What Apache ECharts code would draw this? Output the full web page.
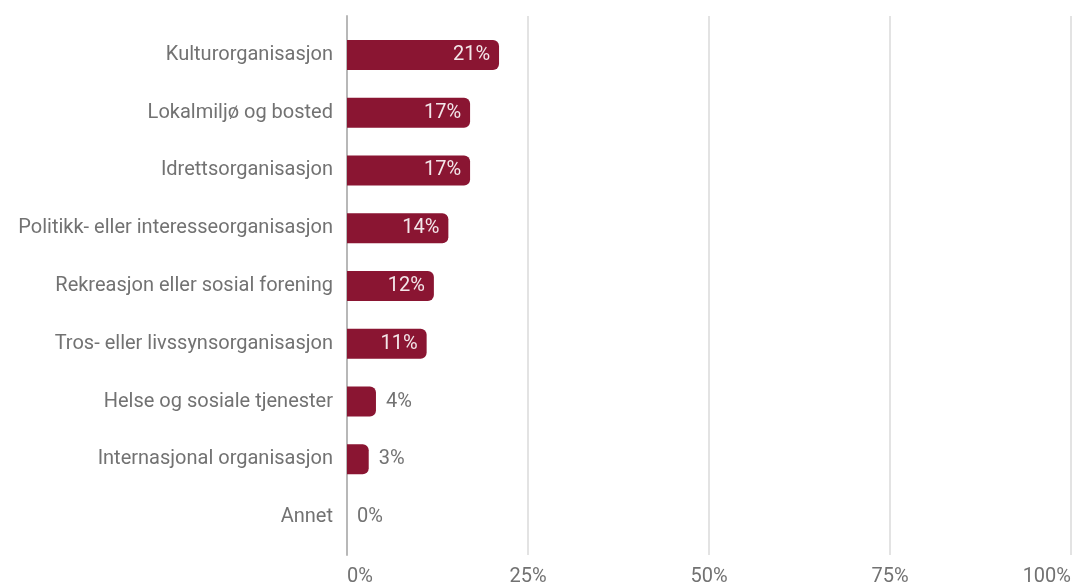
<!DOCTYPE html>
<html>
<head>
<meta charset="utf-8">
<style>html,body{margin:0;padding:0;background:#fff}#c{width:1075px;height:587px}</style>
<script src="https://cdn.jsdelivr.net/npm/echarts@6/dist/echarts.min.js"></script>
</head>
<body>
<div id="c"></div>
<script>
const categories = ["Kulturorganisasjon","Lokalmiljø og bosted","Idrettsorganisasjon","Politikk- eller interesseorganisasjon","Rekreasjon eller sosial forening","Tros- eller livssynsorganisasjon","Helse og sosiale tjenester","Internasjonal organisasjon","Annet"];
const values = [21,17,17,14,12,11,4,3,0];
const xTicks = [0,25,50,75,100];

const chart = echarts.init(document.getElementById('c'));
const barColor = '#8a1532';
const textColor = '#727272';
const font = 'Roboto';

const data = values.map(v => ({
  value: v,
  label: v >= 8
    ? {position: 'insideRight', distance: 9, color: '#f3e6e9'}
    : {position: 'right', distance: 10, color: textColor}
}));

chart.setOption({
  animation: false,
  grid: [
    {left: 347, right: 4, top: 16, bottom: 32},
    {left: 347, right: 4, top: 26, bottom: 41}
  ],
  xAxis: [
    {gridIndex: 0, type: 'value', min: xTicks[0], max: xTicks[xTicks.length-1], interval: 25,
     axisLine: {show: false}, axisTick: {show: false},
     splitLine: {show: true, lineStyle: {color: '#e3e3e3', width: 2}},
     axisLabel: {formatter: '{value}%', color: textColor, fontFamily: font, fontSize: 20, margin: 12,
                 alignMinLabel: 'left', alignMaxLabel: 'right'}},
    {gridIndex: 1, type: 'value', min: xTicks[0], max: xTicks[xTicks.length-1], show: false}
  ],
  yAxis: [
    {gridIndex: 0, type: 'value', min: 0, max: 1,
     axisLine: {show: true, lineStyle: {color: '#b8b8b8', width: 2}},
     axisTick: {show: false}, axisLabel: {show: false}, splitLine: {show: false}},
    {gridIndex: 1, type: 'category', data: categories, inverse: true,
     axisLine: {show: false}, axisTick: {show: false},
     axisLabel: {color: textColor, fontFamily: font, fontSize: 20, margin: 14}}
  ],
  series: [{
    type: 'bar', xAxisIndex: 1, yAxisIndex: 1,
    data: data, barWidth: 30,
    itemStyle: {color: barColor, borderRadius: [0, 6, 6, 0]},
    label: {show: true, formatter: '{c}%', fontFamily: font, fontSize: 20}
  }]
});
</script>
</body>
</html>
